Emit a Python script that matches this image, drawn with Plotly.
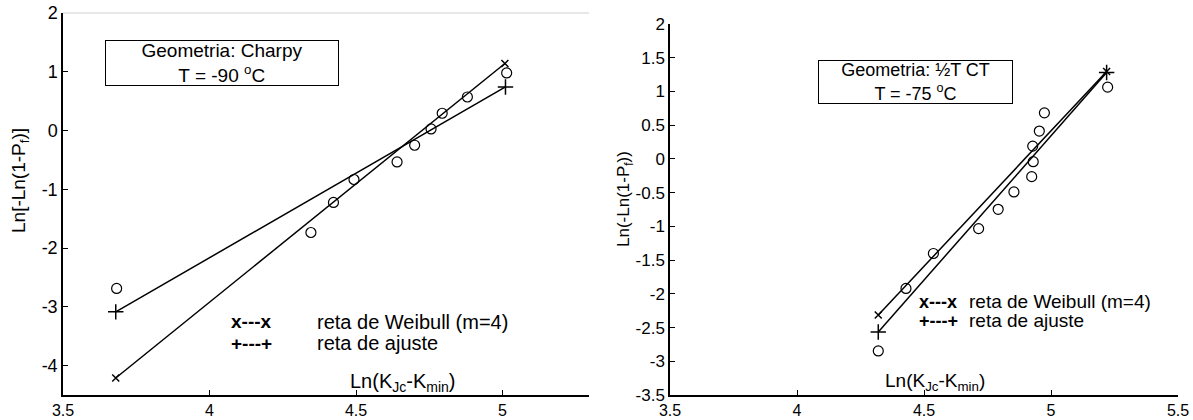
import plotly.graph_objects as go

# ---------------- data ----------------
# Left panel: Charpy, T = -90 C
left_kjc = [3.683, 4.346, 4.423, 4.493, 4.640, 4.700, 4.756, 4.794, 4.880, 5.014]
left_lnp = [-2.687, -1.735, -1.224, -0.833, -0.534, -0.250, 0.027, 0.294, 0.571, 0.980]
left_weib_x = [3.680, 5.008]
left_weib_y = [-4.210, 1.140]
left_fit_x = [3.680, 5.010]
left_fit_y = [-3.085, 0.742]

# Right panel: 1/2T CT, T = -75 C
right_kjc = [4.320, 4.429, 4.537, 4.715, 4.792, 4.854, 4.924, 4.930, 4.928, 4.954, 4.974, 5.223]
right_lnp = [-2.847, -1.920, -1.402, -1.033, -0.747, -0.490, -0.263, -0.041, 0.190, 0.413, 0.683, 1.064]
right_weib_x = [4.320, 5.219]
right_weib_y = [-2.315, 1.295]
right_fit_x = [4.320, 5.219]
right_fit_y = [-2.566, 1.280]

left_yticks = [-4, -3, -2, -1, 0, 1, 2]
left_xticks = [3.5, 4, 4.5, 5]
right_yticks = [-3.5, -3, -2.5, -2, -1.5, -1, -0.5, 0, 0.5, 1, 1.5, 2]
right_xticks = [3.5, 4, 4.5, 5, 5.5]

FONT = "Arial, Liberation Sans, sans-serif"
W, H = 1193, 420

fig = go.Figure()

def add_panel(xs, ys, wx, wy, fx, fy, xa, ya):
    fig.add_trace(go.Scatter(x=xs, y=ys, mode="markers", xaxis=xa, yaxis=ya,
                             marker=dict(symbol="circle-open", size=10, color="black",
                                         line=dict(width=1.2, color="black")),
                             showlegend=False))
    fig.add_trace(go.Scatter(x=wx, y=wy, mode="lines+markers", xaxis=xa, yaxis=ya,
                             line=dict(color="black", width=1.5),
                             marker=dict(symbol="x-thin", size=7,
                                         line=dict(width=1.5, color="black")),
                             showlegend=False))
    fig.add_trace(go.Scatter(x=fx, y=fy, mode="lines+markers", xaxis=xa, yaxis=ya,
                             line=dict(color="black", width=1.5),
                             marker=dict(symbol="cross-thin", size=11,
                                         line=dict(width=1.5, color="black")),
                             showlegend=False))

add_panel(left_kjc, left_lnp, left_weib_x, left_weib_y, left_fit_x, left_fit_y, "x", "y")
add_panel(right_kjc, right_lnp, right_weib_x, right_weib_y, right_fit_x, right_fit_y, "x2", "y2")

def px_x(p):
    return p / W

def px_y(p):
    return 1 - p / H

axis_common = dict(showline=True, linecolor="black", linewidth=1.5, ticks="inside",
                   ticklen=5, tickcolor="black", tickwidth=1, showgrid=False,
                   zeroline=False, color="black", automargin=False)

fig.update_layout(
    template="none",
    width=W, height=H,
    margin=dict(l=0, r=0, t=0, b=0, pad=0),
    paper_bgcolor="white", plot_bgcolor="white",
    font=dict(family=FONT, color="black", size=15),
    xaxis=dict(domain=[px_x(63), px_x(589)], range=[3.5, 5.295], anchor="y",
               tickvals=left_xticks, ticktext=[str(v) for v in left_xticks],
               tickfont=dict(size=16), **axis_common),
    yaxis=dict(domain=[px_y(395), px_y(13)], range=[-4.5, 2], anchor="x",
               tickvals=left_yticks, ticktext=[str(v) for v in left_yticks],
               tickfont=dict(size=18), **axis_common),
    xaxis2=dict(domain=[px_x(670), px_x(1178)], range=[3.5, 5.5], anchor="y2",
                tickvals=right_xticks, ticktext=[str(v) for v in right_xticks],
                tickfont=dict(size=16), **axis_common),
    yaxis2=dict(domain=[px_y(395), px_y(24)], range=[-3.5, 2], anchor="x2",
                tickvals=right_yticks, ticktext=[str(v) for v in right_yticks],
                tickfont=dict(size=17), **axis_common),
)

# light gray top border on left panel
fig.add_shape(type="line", xref="x domain", yref="y domain", x0=0, x1=1, y0=1, y1=1,
              line=dict(color="#d0d0d0", width=1))

C = dict(xanchor="center", yanchor="middle", showarrow=False)
L = dict(xanchor="left", yanchor="middle", showarrow=False)

ann = []
# info boxes
ann.append(dict(xref="x domain", yref="y domain", x=0.302, y=0.869,
                text="Geometria: Charpy<br>T = -90 <sup>o</sup>C",
                font=dict(size=19, family=FONT), bordercolor="black", borderwidth=1,
                borderpad=1, width=230, height=42, align="center", bgcolor="white", **C))
ann.append(dict(xref="x2 domain", yref="y2 domain", x=0.484, y=0.845,
                text="Geometria: ½T CT<br>T = -75 <sup>o</sup>C",
                font=dict(size=18, family=FONT), bordercolor="black", borderwidth=1,
                borderpad=1, width=191, height=40, align="center", bgcolor="white", **C))
# legends
ann += [
    dict(xref="x domain", yref="y domain", x=0.316, y=0.192,
         text="<b>x---x</b>", font=dict(size=19), **L),
    dict(xref="x domain", yref="y domain", x=0.316, y=0.136,
         text="<b>+---+</b>", font=dict(size=19), **L),
    dict(xref="x domain", yref="y domain", x=0.480, y=0.192,
         text="reta de Weibull (m=4)", font=dict(size=20), **L),
    dict(xref="x domain", yref="y domain", x=0.480, y=0.136,
         text="reta de ajuste", font=dict(size=20), **L),
    dict(xref="x2 domain", yref="y2 domain", x=0.486, y=0.251,
         text="<b>x---x</b>", font=dict(size=18), **L),
    dict(xref="x2 domain", yref="y2 domain", x=0.585, y=0.251,
         text="reta de Weibull (m=4)", font=dict(size=19), **L),
    dict(xref="x2 domain", yref="y2 domain", x=0.486, y=0.200,
         text="<b>+---+</b>", font=dict(size=18), **L),
    dict(xref="x2 domain", yref="y2 domain", x=0.585, y=0.200,
         text="reta de ajuste", font=dict(size=19), **L),
]
# axis titles
ann += [
    dict(xref="x domain", yref="y domain", x=0.645, y=0.034,
         text="Ln(K<sub>Jc</sub>-K<sub>min</sub>)", font=dict(size=20), **C),
    dict(xref="x2 domain", yref="y2 domain", x=0.522, y=0.035,
         text="Ln(K<sub>Jc</sub>-K<sub>min</sub>)", font=dict(size=19), **C),
    dict(xref="paper", yref="paper", x=px_x(20), y=px_y(181), textangle=-90,
         text="Ln[-Ln(1-P<sub>f</sub>)]", font=dict(size=19), **C),
    dict(xref="paper", yref="paper", x=px_x(625), y=px_y(199), textangle=-90,
         text="Ln(-Ln(1-P<sub>f</sub>))", font=dict(size=17), **C),
]
fig.update_layout(annotations=ann)

fig.write_html(
    "out.html",
    config={"displayModeBar": False},
    post_script="document.body.style.margin='0';document.body.style.padding='0';"
                "document.body.style.overflow='hidden';",
)
